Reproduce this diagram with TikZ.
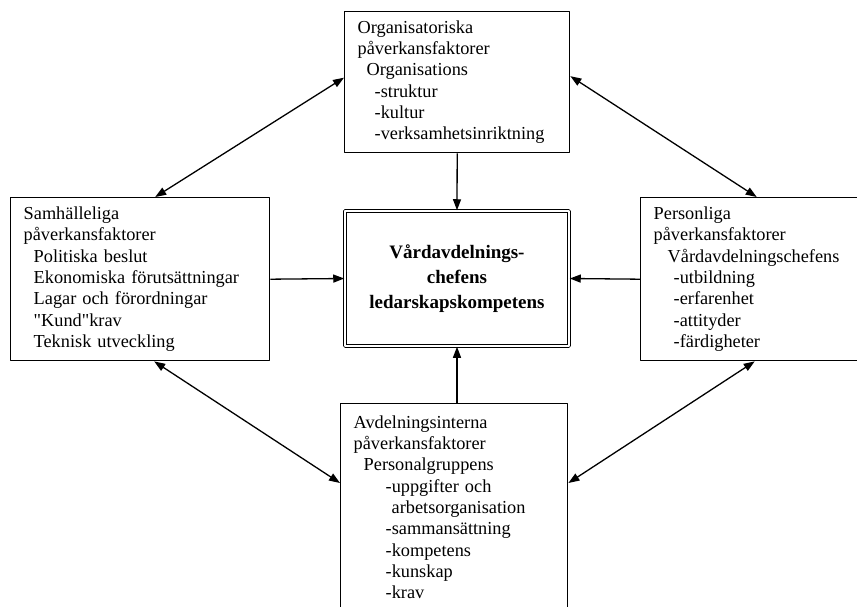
\documentclass[tikz,border=0pt]{standalone}
\usepackage{fontspec}
\setmainfont{Liberation Serif}
\newfontfamily\straightquote{Liberation Serif}
\usetikzlibrary{arrows.meta, positioning}

\begin{document}
\begin{tikzpicture}[
                line join=bevel,
                factorbox/.style={draw=black, line width=1.4pt, anchor=north west, align=left,
                    inner xsep=13pt, inner ysep=8pt, font=\fontsize{18.3}{21.3}\selectfont},
                corebox/.style={draw=black, line width=1.5pt, double, double distance=1.5pt, align=center,
                    minimum width=224pt, minimum height=135pt, font=\fontsize{19}{25}\selectfont\bfseries},
                link/.style={line width=1.3pt, -{Triangle[length=11pt, width=8pt]}},
                duallink/.style={line width=1.3pt, {Triangle[length=11pt, width=8pt]}-{Triangle[length=11pt, width=8pt]}}
            ]
                % Frame
                \useasboundingbox (0pt, 0pt) rectangle (857pt, 606pt);
                \clip (0pt, 0pt) rectangle (857pt, 606pt);

                % Centre
                \node[corebox] (core) at (457pt, 327.5pt) {Vårdavdelnings-\\chefens\\ledarskapskompetens};

                % Factor boxes
                \node[factorbox, text width=199pt, minimum height=141pt] (org) at (344pt, 595pt) {
                    Organisatoriska\\
                    påverkansfaktorer\\
                    \hspace*{9pt}Organisations\\
                    \hspace*{17pt}-struktur\\
                    \hspace*{17pt}-kultur\\
                    \hspace*{17pt}-verksamhetsinriktning};
                \node[factorbox, text width=233pt, minimum height=163pt] (samh) at (10pt, 409pt) {
                    Samhälleliga\\
                    påverkansfaktorer\\
                    \hspace*{10pt}Politiska beslut\\
                    \hspace*{10pt}Ekonomiska förutsättningar\\
                    \hspace*{10pt}Lagar och förordningar\\
                    \hspace*{10pt}{\straightquote "Kund"krav}\\
                    \hspace*{10pt}Teknisk utveckling};
                \node[factorbox, text width=194pt, minimum height=163pt] (pers) at (640pt, 409pt) {
                    Personliga\\
                    påverkansfaktorer\\
                    \hspace*{14pt}Vårdavdelningschefens\\
                    \hspace*{20pt}-utbildning\\
                    \hspace*{20pt}-erfarenhet\\
                    \hspace*{20pt}-attityder\\
                    \hspace*{20pt}-färdigheter};
                \node[factorbox, text width=201pt, minimum height=207pt] (avd) at (340pt, 203pt) {
                    Avdelningsinterna\\
                    påverkansfaktorer\\
                    \hspace*{10pt}Personalgruppens\\
                    \hspace*{32pt}-uppgifter och\\
                    \hspace*{38pt}arbetsorganisation\\
                    \hspace*{32pt}-sammansättning\\
                    \hspace*{32pt}-kompetens\\
                    \hspace*{32pt}-kunskap\\
                    \hspace*{32pt}-krav};

                % Arrows into the centre
                \draw[link] (org.south) -- (core.north);
                \draw[link] (samh.east) -- (core.west);
                \draw[link] (pers.west) -- (core.east);
                \draw[link] (avd.north -| core.south) -- (core.south);

                % Arrows between the factors
                \draw[duallink] ([xshift=15pt]samh.north) -- ([yshift=4.5pt]org.west);
                \draw[duallink] ([yshift=6pt]org.east) -- ([xshift=6pt]pers.north);
                \draw[duallink] ([xshift=14pt]samh.south) -- ([yshift=-80pt]avd.north west);
                \draw[duallink] ([xshift=4pt]pers.south) -- ([yshift=-80pt]avd.north east);
            \end{tikzpicture}
\end{document}
